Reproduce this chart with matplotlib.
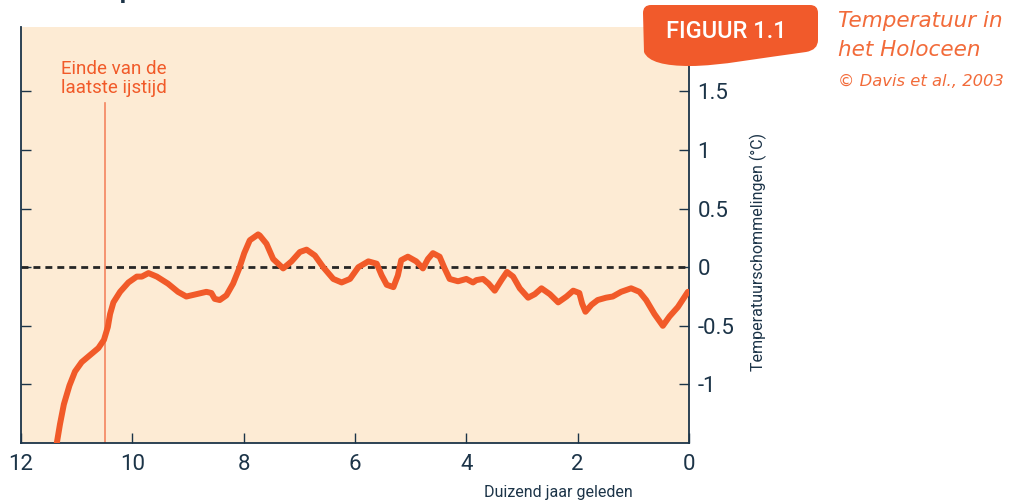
import matplotlib
matplotlib.use("Agg")
import matplotlib.pyplot as plt
from matplotlib.path import Path
from matplotlib.patches import PathPatch

# thousand years before present vs temperature anomaly (deg C)
YEARS = [11.36, 11.30, 11.23, 11.13, 11.03, 10.91, 10.76, 10.61, 10.51, 10.44, 10.40,
         10.34, 10.22, 10.07, 9.92, 9.83, 9.71, 9.56, 9.36, 9.18, 9.03, 8.85, 8.67,
         8.58, 8.52, 8.43, 8.31, 8.19, 8.08, 7.99, 7.89, 7.74, 7.71, 7.59, 7.47,
         7.29, 7.14, 6.99, 6.87, 6.72, 6.57, 6.39, 6.24, 6.09, 5.94, 5.76, 5.61,
         5.52, 5.43, 5.31, 5.23, 5.17, 5.05, 4.90, 4.78, 4.69, 4.60, 4.48, 4.39,
         4.30, 4.15, 4.00, 3.88, 3.82, 3.70, 3.60, 3.49, 3.37, 3.27, 3.16, 3.04,
         2.89, 2.77, 2.65, 2.50, 2.35, 2.20, 2.08, 1.97, 1.92, 1.86, 1.75, 1.64,
         1.49, 1.37, 1.22, 1.04, 0.89, 0.77, 0.62, 0.47, 0.35, 0.20, 0.02]
TEMPS = [-1.51, -1.34, -1.17, -1.01, -0.89, -0.81, -0.75, -0.69, -0.62, -0.51, -0.40,
         -0.30, -0.21, -0.13, -0.08, -0.08, -0.05, -0.08, -0.14, -0.21, -0.25, -0.23, -0.21,
         -0.22, -0.27, -0.28, -0.24, -0.14, -0.01, 0.12, 0.23, 0.28, 0.27, 0.20, 0.07,
         -0.01, 0.05, 0.13, 0.15, 0.10, 0.00, -0.10, -0.13, -0.10, 0.00, 0.05, 0.03,
         -0.07, -0.15, -0.17, -0.07, 0.06, 0.09, 0.05, -0.01, 0.07, 0.12, 0.09, -0.01,
         -0.10, -0.12, -0.10, -0.13, -0.11, -0.10, -0.14, -0.20, -0.11, -0.04, -0.08, -0.18,
         -0.26, -0.23, -0.18, -0.23, -0.30, -0.25, -0.20, -0.22, -0.31, -0.38, -0.32, -0.28,
         -0.26, -0.25, -0.21, -0.18, -0.21, -0.28, -0.40, -0.50, -0.42, -0.34, -0.21]

ICE_AGE_END = 10.5
X_TICKS = [12, 10, 8, 6, 4, 2, 0]
Y_TICKS = [-1, -0.5, 0, 0.5, 1, 1.5]
Y_TICK_LABELS = ["-1", "-0.5", "0", "0.5", "1", "1.5"]

ORANGE = "#F15A29"
PEACH = "#FDEBD4"
NAVY = "#1C3448"
W, H = 1014, 503

plt.rcParams["font.family"] = ["Roboto", "DejaVu Sans"]

fig = plt.figure(figsize=(W / 100, H / 100), dpi=100)
ax = fig.add_axes([21 / W, 1 - 443 / H, 668 / W, 416 / H])
ax.set_facecolor(PEACH)

ax.axhline(0, color="#262626", lw=2.0, ls=(0, (2.5, 1.8)), zorder=2)
ax.plot([ICE_AGE_END, ICE_AGE_END], [-1.5, 1.4], color="#F4845F", lw=1.2, zorder=2)
ax.plot(YEARS, TEMPS, color=ORANGE, lw=4.3, solid_joinstyle="round",
        solid_capstyle="round", zorder=3)

ax.set_xlim(12, 0)
ax.set_ylim(-1.5, 2.05)
ax.set_xticks(X_TICKS)
ax.set_xticklabels([str(v) for v in X_TICKS])
ax.set_yticks(Y_TICKS)
ax.set_yticklabels(Y_TICK_LABELS)
ax.tick_params(axis="x", direction="in", length=7, width=1, color=NAVY,
               labelcolor=NAVY, labelsize=16, pad=8)
ax.tick_params(axis="y", direction="in", length=7, width=1, color=NAVY,
               labelcolor=NAVY, labelsize=16, left=True, right=True,
               labelleft=False, labelright=True, pad=6)
for side in ("left", "right", "bottom"):
    ax.spines[side].set_color(NAVY)
    ax.spines[side].set_linewidth(1.3)
ax.spines["top"].set_visible(False)

ax.text(10.33, 1.45, "Einde van de\nlaatste ijstijd", color=ORANGE, fontsize=13.5,
        ha="center", va="bottom", linespacing=1.1)

fig.text(758 / W, 1 - 252 / H, "Temperatuurschommelingen (°C)", rotation=90,
         color=NAVY, fontsize=11.5, ha="center", va="center")
fig.text(558 / W, 1 - 492 / H, "Duizend jaar geleden", color=NAVY, fontsize=11.5,
         ha="center", va="center")

# title, mostly cut off at the top edge as in the source
fig.text(69 / W, 1 + 1.5 / H, "Temperatuur in het Holoceen", color=NAVY,
         fontsize=18, fontweight="bold", ha="left", va="baseline")

# badge
pts = [(651, 5), (810, 5), (818, 5), (818, 13), (818, 40), (818, 50), (806, 52),
       (760, 58), (720, 66), (690, 66), (665, 66), (648, 62), (644, 52),
       (643, 13), (643, 5), (651, 5), (651, 5)]
codes = [Path.MOVETO, Path.LINETO, Path.CURVE3, Path.CURVE3, Path.LINETO,
         Path.CURVE3, Path.CURVE3, Path.CURVE4, Path.CURVE4, Path.CURVE4,
         Path.CURVE4, Path.CURVE4, Path.CURVE4, Path.LINETO, Path.CURVE3,
         Path.CURVE3, Path.CLOSEPOLY]
verts = [(x / W, 1 - y / H) for x, y in pts]
fig.patches.append(PathPatch(Path(verts, codes), transform=fig.transFigure,
                             facecolor="#F15A2B", edgecolor="none", zorder=5))
fig.text(726 / W, 1 - 32 / H, "FIGUUR 1.1", color="white", fontsize=17,
         fontweight="medium", ha="center", va="center", zorder=6)

fig.text(838 / W, 1 - 21 / H, "Temperatuur in", color="#F26B3A", fontsize=15.5,
         style="italic", family="DejaVu Sans", ha="left", va="center")
fig.text(838 / W, 1 - 50 / H, "het Holoceen", color="#F26B3A", fontsize=15.5,
         style="italic", family="DejaVu Sans", ha="left", va="center")
fig.text(838 / W, 1 - 82 / H, "© Davis et al., 2003", color="#F26B3A", fontsize=11.8,
         style="italic", family="DejaVu Sans", ha="left", va="center")

fig.savefig("out.png", dpi=100)
